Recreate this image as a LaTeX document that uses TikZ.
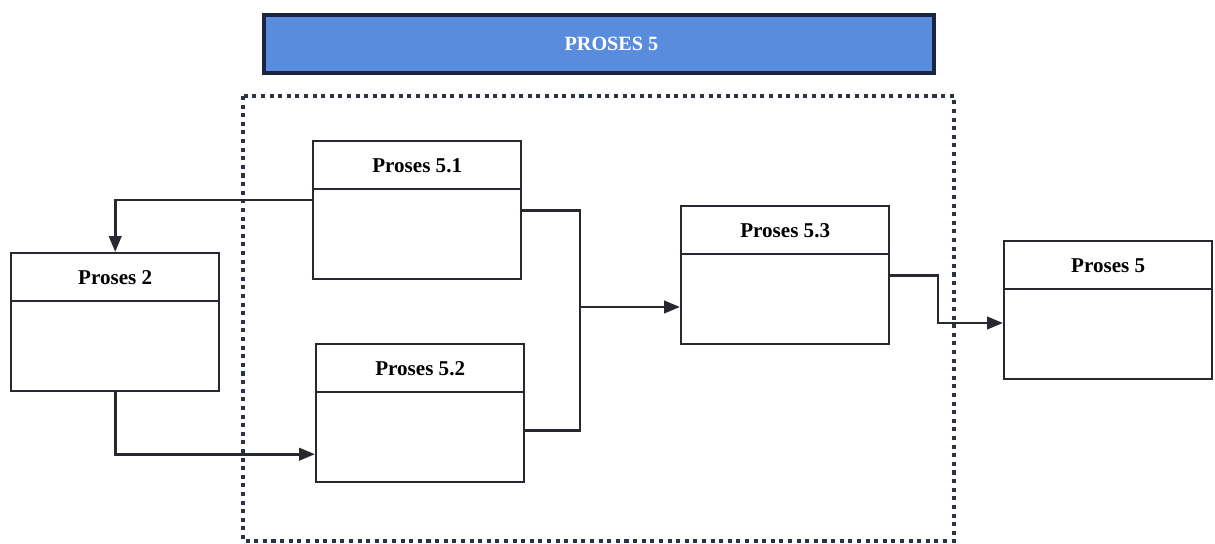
\documentclass[tikz,border=0pt]{standalone}
\usepackage{fontspec}
\setmainfont{Liberation Serif}
\usepackage{tikz}
\usetikzlibrary{arrows.meta,positioning}

\tikzset{
  head/.style={draw=boxline, line width=1.4pt, minimum width=4.16cm, minimum height=0.96cm,
    inner sep=0pt, anchor=north west, font=\fontsize{12}{14}\selectfont\bfseries},
  body/.style={draw=boxline, line width=1.4pt, minimum width=4.16cm, minimum height=1.8cm,
    inner sep=0pt, below=-1.4pt of #1},
  link/.style={draw=boxline, line width=1.6pt, -{Triangle[length=9pt,width=7pt]}},
  wire/.style={draw=boxline, line width=1.6pt},
}

\begin{document}
\begin{tikzpicture}[x=0.02cm, y=-0.02cm]
    % colours and page %
    \definecolor{boxline}{RGB}{40,40,48}
    \definecolor{bandfill}{RGB}{90,140,222}
    \definecolor{bandline}{RGB}{28,36,64}
    \definecolor{dotline}{RGB}{42,50,70}
    \useasboundingbox (0,0) rectangle (1215,544);

    % title band and dotted zone %
    \node[draw=bandline, line width=2.3pt, fill=bandfill, minimum width=13.4cm, minimum height=1.16cm,
      inner sep=0pt, anchor=north west, text=white, font=\fontsize{11.5}{13}\selectfont\bfseries]
      (band) at (262,13) {\hspace{0.5cm}PROSES 5};
    \draw[dotline, line width=2.3pt, dash pattern=on 2.3pt off 2.6pt] (243,96) rectangle (954,541);

    % process boxes %
    \node[head] (h51) at (312,140) {Proses 5.1};
    \node[body=h51] (b51) {};
    \node[head] (h2) at (10,252) {Proses 2};
    \node[body=h2] (b2) {};
    \node[head] (h52) at (315,343) {Proses 5.2};
    \node[body=h52] (b52) {};
    \node[head] (h53) at (680,205) {Proses 5.3};
    \node[body=h53] (b53) {};
    \node[head] (h5) at (1003,240) {Proses 5};
    \node[body=h5] (b5) {};

    % connectors %
    \coordinate (join) at (580,307);
    \coordinate (step) at (938,323);
    \draw[link] ([yshift=-0.24cm]b51.north west) -| (h2.north);
    \draw[link] (b2.south) |- ([yshift=-0.34cm]b52.west);
    \draw[wire] ([yshift=0.47cm]b51.east) -| (join);
    \draw[wire] ([yshift=0.14cm]b52.east) -| (join);
    \draw[link] (join) -- (join -| b53.west);
    \draw[link] ([yshift=0.48cm]b53.east) -| (step) -- (step -| b5.west);
\end{tikzpicture}
\end{document}
